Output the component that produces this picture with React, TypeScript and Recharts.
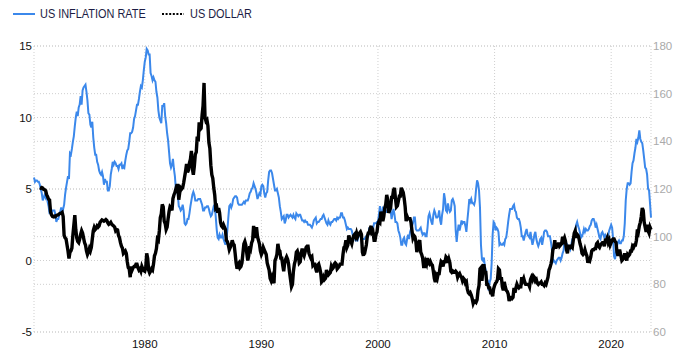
import React from 'react';
import { LineChart, Line, XAxis, YAxis, CartesianGrid } from 'recharts';

// monthly, first value = Jul 1970
const INFLATION_START = 1970 + 6 / 12;
const inflation = [
  5.8, 5.5, 5.6, 5.6, 5.5, 5.5,
  5.3, 5.0, 4.7, 4.2, 4.4, 4.6, 4.4, 4.6, 4.1, 3.8, 3.3, 3.3,
  3.3, 3.5, 3.5, 3.5, 3.2, 2.7, 2.9, 2.9, 3.2, 3.4, 3.7, 3.4,
  3.6, 3.9, 4.6, 5.1, 5.5, 5.9, 5.7, 7.5, 7.4, 7.8, 8.3, 8.7,
  9.4, 10.0, 10.4, 10.1, 10.7, 10.9, 11.5, 10.9, 11.9, 12.1, 12.2, 12.3,
  11.8, 11.2, 10.3, 10.2, 9.5, 9.3, 9.7, 8.6, 7.9, 7.4, 7.4, 6.9,
  6.7, 6.3, 6.1, 6.0, 6.2, 5.9, 5.3, 5.7, 5.5, 5.5, 4.9, 4.9,
  5.2, 6.0, 6.4, 6.9, 6.7, 6.9, 6.8, 6.6, 6.6, 6.4, 6.7, 6.7,
  6.8, 6.4, 6.6, 6.5, 7.0, 7.4, 7.7, 7.8, 8.3, 8.9, 8.9, 9.0,
  9.3, 9.9, 10.1, 10.5, 10.9, 10.9, 11.3, 11.8, 12.2, 12.1, 12.6, 13.3,
  13.9, 14.2, 14.8, 14.7, 14.4, 14.4, 13.1, 12.9, 12.6, 12.8, 12.6, 12.5,
  11.8, 11.4, 10.5, 10.0, 9.8, 9.6, 10.8, 10.8, 11.0, 10.1, 9.6, 8.9,
  8.4, 7.6, 6.8, 6.5, 6.7, 7.1, 6.4, 5.9, 5.0, 5.1, 4.6, 3.8,
  3.7, 3.5, 3.6, 3.9, 3.5, 2.6, 2.5, 2.6, 2.9, 2.9, 3.3, 3.8,
  4.2, 4.6, 4.8, 4.6, 4.2, 4.2, 4.2, 4.3, 4.3, 4.3, 4.1, 3.9,
  3.5, 3.5, 3.7, 3.7, 3.8, 3.8, 3.6, 3.3, 3.1, 3.2, 3.5, 3.8,
  3.9, 3.1, 2.2, 1.6, 1.5, 1.8, 1.6, 1.6, 1.8, 1.5, 1.3, 1.1,
  1.5, 2.1, 3.0, 3.8, 3.9, 3.7, 3.9, 4.3, 4.4, 4.5, 4.5, 4.4,
  4.0, 3.9, 3.9, 3.9, 3.9, 4.0, 4.1, 4.0, 4.2, 4.2, 4.2, 4.4,
  4.7, 4.8, 5.0, 5.1, 5.4, 5.2, 5.0, 4.7, 4.3, 4.5, 4.7, 4.6,
  5.2, 5.3, 5.2, 4.7, 4.4, 4.7, 4.8, 5.6, 6.2, 6.3, 6.3, 6.1,
  5.7, 5.3, 4.9, 4.9, 5.0, 4.7, 4.4, 3.8, 3.4, 2.9, 3.0, 3.1,
  2.6, 2.8, 3.2, 3.2, 3.0, 3.1, 3.2, 3.1, 3.0, 3.2, 3.0, 2.9,
  3.3, 3.2, 3.1, 3.2, 3.2, 3.0, 2.8, 2.8, 2.7, 2.8, 2.7, 2.7,
  2.5, 2.5, 2.5, 2.4, 2.3, 2.5, 2.8, 2.9, 3.0, 2.6, 2.7, 2.7,
  2.8, 2.9, 2.9, 3.1, 3.2, 3.0, 2.8, 2.6, 2.5, 2.8, 2.6, 2.5,
  2.7, 2.7, 2.8, 2.9, 2.9, 2.8, 3.0, 2.9, 3.0, 3.0, 3.3, 3.3,
  3.0, 3.0, 2.8, 2.5, 2.2, 2.3, 2.2, 2.2, 2.2, 2.1, 1.8, 1.7,
  1.6, 1.4, 1.4, 1.4, 1.7, 1.7, 1.7, 1.6, 1.5, 1.5, 1.5, 1.6,
  1.7, 1.6, 1.7, 2.3, 2.1, 2.0, 2.1, 2.3, 2.6, 2.6, 2.6, 2.7,
  2.7, 3.2, 3.8, 3.1, 3.2, 3.7, 3.7, 3.4, 3.5, 3.4, 3.4, 3.4,
  3.7, 3.5, 2.9, 3.3, 3.6, 3.2, 2.7, 2.7, 2.6, 2.1, 1.9, 1.6,
  1.1, 1.1, 1.5, 1.6, 1.2, 1.1, 1.5, 1.8, 1.5, 2.0, 2.2, 2.4,
  2.6, 3.0, 3.0, 2.2, 2.1, 2.1, 2.1, 2.2, 2.3, 2.0, 1.8, 1.9,
  1.9, 1.7, 1.7, 2.3, 3.1, 3.3, 3.0, 2.7, 2.5, 3.2, 3.5, 3.3,
  3.0, 3.0, 3.1, 3.5, 2.8, 2.5, 3.2, 3.6, 4.7, 4.3, 3.5, 3.4,
  4.0, 3.6, 3.4, 3.5, 4.2, 4.3, 4.1, 3.8, 2.1, 1.3, 2.0, 2.5,
  2.1, 2.4, 2.8, 2.6, 2.7, 2.7, 2.4, 2.0, 2.8, 3.5, 4.3, 4.1,
  4.3, 4.0, 4.0, 3.9, 4.2, 5.0, 5.6, 5.4, 4.9, 3.7, 1.1, 0.1,
  0.0, 0.2, -0.4, -0.7, -1.3, -1.4, -2.1, -1.5, -1.3, -0.2, 1.8, 2.7,
  2.6, 2.1, 2.3, 2.2, 2.0, 1.1, 1.2, 1.1, 1.1, 1.2, 1.1, 1.5,
  1.6, 2.1, 2.7, 3.2, 3.6, 3.6, 3.6, 3.8, 3.9, 3.5, 3.4, 3.0,
  2.9, 2.9, 2.7, 2.3, 1.7, 1.7, 1.4, 1.7, 2.0, 2.2, 1.8, 1.7,
  1.6, 2.0, 1.5, 1.1, 1.4, 1.8, 2.0, 1.5, 1.2, 1.0, 1.2, 1.5,
  1.6, 1.1, 1.5, 2.0, 2.1, 2.1, 2.0, 1.7, 1.7, 1.7, 1.3, 0.8,
  -0.1, 0.0, -0.1, -0.2, 0.0, 0.1, 0.2, 0.2, 0.0, 0.2, 0.5, 0.7,
  1.4, 1.0, 0.9, 1.1, 1.0, 1.0, 0.8, 1.1, 1.5, 1.6, 1.7, 2.1,
  2.5, 2.7, 2.4, 2.2, 1.9, 1.6, 1.7, 1.9, 2.2, 2.0, 2.2, 2.1,
  2.1, 2.2, 2.4, 2.5, 2.8, 2.9, 2.9, 2.7, 2.3, 2.5, 2.2, 1.9,
  1.6, 1.5, 1.9, 2.0, 1.8, 1.6, 1.8, 1.7, 1.7, 1.8, 2.1, 2.3,
  2.5, 2.3, 1.5, 0.3, 0.1, 0.6, 1.0, 1.3, 1.4, 1.2, 1.2, 1.4,
  1.4, 1.7, 2.6, 4.2, 5.0, 5.4, 5.4, 5.3, 5.4, 6.2, 6.8, 7.0,
  7.5, 7.9, 8.5, 8.3, 8.6, 9.1, 8.5, 8.3, 8.2, 7.7, 7.1, 6.5,
  6.4, 6.0, 5.0, 4.9, 4.0, 3.0,
];

// monthly, first value = Jan 1971
const DOLLAR_START = 1971;
const dollar = [
  120.5, 120.3, 120.6, 120.4, 119.8, 119.7, 119.3, 117.6, 116.8, 115.7, 115.4, 110.5,
  109.2, 108.5, 108.3, 108.6, 108.4, 108.9, 109.0, 109.2, 109.6, 109.8, 109.9, 110.2,
  108.5, 100.5, 99.5, 99.0, 96.5, 94.0, 90.8, 93.5, 94.0, 95.2, 100.5, 104.8,
  109.0, 103.0, 99.5, 98.0, 97.5, 99.0, 101.0, 102.5, 101.5, 99.5, 97.5, 96.5,
  94.0, 92.5, 93.5, 95.0, 94.0, 95.5, 99.0, 102.5, 103.9, 103.0, 103.5, 104.5,
  104.0, 104.5, 106.0, 106.5, 107.0, 106.8, 106.5, 106.8, 107.2, 106.8, 105.8, 105.2,
  105.5, 106.0, 105.2, 104.8, 104.5, 104.0, 102.5, 103.0, 102.8, 100.5, 99.5, 97.5,
  96.0, 95.2, 93.0, 93.5, 94.0, 93.0, 89.5, 87.0, 86.5, 83.0, 87.5, 86.0,
  87.0, 87.5, 87.5, 88.5, 88.5, 87.0, 86.0, 86.5, 85.5, 87.5, 86.5, 85.8,
  85.5, 87.0, 93.0, 91.0, 86.0, 84.8, 85.5, 86.5, 86.0, 88.5, 92.0, 93.0,
  95.0, 99.0, 98.5, 102.5, 108.0, 109.5, 113.5, 112.5, 106.5, 105.5, 103.0, 104.0,
  107.5, 110.5, 112.5, 112.0, 111.0, 116.0, 117.5, 118.5, 120.0, 121.5, 121.5, 115.5,
  118.5, 120.5, 120.0, 120.5, 122.5, 125.0, 127.5, 130.5, 127.0, 128.0, 131.0, 132.5,
  136.0, 128.5, 126.0, 129.5, 134.5, 135.5, 142.0, 140.0, 148.0, 145.0, 145.5, 151.0,
  155.0, 164.5, 150.0, 148.5, 149.0, 146.5, 139.5, 137.0, 130.0, 126.0, 124.5, 120.5,
  117.5, 112.0, 112.5, 110.0, 112.0, 110.0, 106.0, 104.5, 104.0, 105.0, 104.0, 103.0,
  98.5, 98.0, 96.5, 94.5, 95.5, 96.5, 98.5, 97.0, 96.5, 93.0, 89.0, 86.5,
  88.5, 89.0, 87.0, 87.5, 89.0, 93.0, 97.0, 98.0, 96.5, 93.0, 90.0, 92.0,
  96.0, 95.0, 97.5, 98.5, 104.5, 102.0, 99.5, 104.0, 100.0, 98.5, 97.0, 94.0,
  92.5, 93.5, 95.5, 94.5, 93.5, 92.5, 89.0, 87.5, 86.0, 82.5, 81.5, 83.0,
  81.5, 80.5, 90.0, 91.0, 92.5, 97.0, 94.5, 94.0, 91.0, 91.0, 88.0, 85.5,
  89.0, 90.5, 91.5, 90.5, 88.5, 85.0, 82.0, 79.0, 80.0, 85.5, 88.5, 90.0,
  93.5, 94.0, 92.5, 89.0, 89.5, 93.0, 95.0, 93.0, 92.0, 93.5, 95.5, 96.0,
  96.0, 93.0, 92.0, 91.0, 91.5, 88.0, 88.5, 88.5, 86.5, 85.0, 88.0, 88.5,
  87.0, 85.0, 81.0, 81.5, 83.0, 82.0, 82.5, 86.0, 85.0, 84.0, 84.5, 85.0,
  87.5, 86.5, 87.0, 88.5, 89.0, 88.5, 86.5, 87.0, 87.5, 88.5, 88.5, 88.5,
  92.5, 95.5, 96.0, 98.5, 95.5, 96.5, 100.5, 99.0, 98.0, 97.0, 99.0, 100.5,
  101.0, 100.0, 101.5, 100.0, 101.0, 101.5, 102.0, 101.0, 93.5, 92.0, 95.5, 94.5,
  96.5, 100.0, 101.5, 101.5, 103.5, 104.5, 100.5, 101.5, 98.5, 98.5, 101.0, 102.0,
  105.5, 106.5, 106.0, 110.5, 108.0, 106.5, 108.5, 112.0, 113.5, 117.5, 115.5, 110.0,
  111.0, 112.0, 116.5, 116.5, 119.5, 120.5, 116.0, 112.5, 113.0, 115.0, 117.0, 117.0,
  120.5, 119.5, 118.5, 116.0, 112.5, 106.5, 108.5, 107.5, 107.5, 107.5, 106.0, 102.5,
  99.5, 100.5, 100.0, 98.0, 93.5, 95.5, 97.5, 98.5, 93.5, 92.5, 91.0, 87.5,
  87.5, 89.5, 88.5, 91.0, 89.0, 88.5, 89.5, 88.5, 88.0, 85.5, 82.5, 81.0,
  83.5, 82.5, 84.5, 84.5, 87.5, 89.5, 89.0, 87.5, 89.5, 89.5, 91.5, 91.0,
  89.0, 90.5, 89.0, 85.5, 85.0, 85.5, 85.0, 85.0, 85.5, 85.0, 83.0, 84.0,
  84.5, 83.5, 83.0, 81.5, 82.5, 82.0, 80.5, 81.0, 78.0, 76.5, 76.0, 76.5,
  75.5, 74.0, 72.0, 73.0, 73.0, 72.5, 73.5, 77.5, 79.5, 86.5, 87.0, 81.5,
  86.0, 88.5, 85.0, 85.0, 80.0, 80.0, 78.5, 78.5, 76.5, 76.5, 75.0, 78.0,
  79.5, 80.5, 81.0, 82.0, 86.5, 86.0, 82.0, 83.0, 79.0, 77.5, 81.0, 79.0,
  77.5, 77.0, 76.0, 73.0, 74.5, 74.5, 74.0, 74.5, 78.5, 76.5, 78.5, 80.0,
  79.0, 78.5, 79.0, 79.0, 83.0, 81.5, 82.5, 81.0, 80.0, 80.0, 80.0, 80.0,
  79.0, 82.0, 83.0, 82.0, 83.5, 83.0, 81.5, 82.0, 80.5, 80.0, 80.5, 80.5,
  81.0, 80.0, 80.0, 79.5, 80.5, 80.0, 81.5, 83.0, 86.0, 87.0, 88.5, 90.5,
  94.5, 95.5, 98.5, 95.0, 97.0, 95.5, 97.5, 96.0, 96.5, 97.0, 100.0, 98.5,
  99.5, 98.0, 94.5, 93.0, 96.0, 96.0, 95.5, 96.0, 95.5, 98.5, 101.5, 102.5,
  99.5, 101.0, 100.5, 99.0, 97.0, 95.5, 93.0, 92.5, 93.0, 94.5, 93.0, 92.0,
  89.0, 90.5, 90.0, 91.5, 94.0, 94.5, 94.5, 95.0, 95.0, 97.0, 97.5, 96.0,
  95.5, 96.5, 97.0, 97.5, 97.5, 96.0, 98.5, 98.5, 99.5, 97.5, 98.5, 96.5,
  97.5, 98.5, 99.0, 99.0, 98.0, 97.5, 93.5, 92.0, 94.0, 94.0, 92.0, 90.0,
  90.5, 91.0, 93.0, 91.5, 90.0, 92.5, 92.0, 92.5, 94.0, 94.0, 96.0, 95.5,
  96.5, 96.5, 98.5, 103.0, 102.0, 104.5, 106.0, 108.5, 112.0, 111.0, 106.0, 104.0,
  102.0, 105.0, 102.5, 101.5, 104.0, 103.0,
];

const yearTicks = [1980, 1990, 2000, 2010, 2020];
const leftTicks = [-5, 0, 5, 10, 15];
const rightTicks = [60, 80, 100, 120, 140, 160, 180];

const BLUE = '#3b88eb';
const offset = Math.round((DOLLAR_START - INFLATION_START) * 12);

const data = inflation.map((v, i) => ({
  t: INFLATION_START + i / 12,
  inflation: v,
  dollar: i >= offset ? dollar[i - offset] ?? null : null,
}));

const tickFont = { fontSize: 11.5, fontFamily: 'Arial, "Liberation Sans", sans-serif' };

const legendText: React.CSSProperties = {
  position: 'absolute',
  top: 5,
  fontFamily: 'Arial, "Liberation Sans", sans-serif',
  fontSize: 13,
  lineHeight: '18px',
  color: '#1c1c44',
  whiteSpace: 'nowrap',
  transform: 'scaleX(0.84)',
  transformOrigin: 'left center',
};

const LegendBox = () => (
  <div style={{ position: 'absolute', left: 0, top: 0, width: 300, height: 28 }}>
    <svg width={300} height={28} style={{ position: 'absolute', left: 0, top: 0 }}>
      <line x1={13} x2={35} y1={14} y2={14} stroke={BLUE} strokeWidth={2} />
      <line x1={162} x2={184} y1={14} y2={14} stroke="#000" strokeWidth={2} strokeDasharray="2 1.6" />
    </svg>
    <span style={{ ...legendText, left: 40 }}>US INFLATION RATE</span>
    <span style={{ ...legendText, left: 190 }}>US DOLLAR</span>
  </div>
);

export default function App() {
  return (
    <div style={{ position: 'absolute', left: 0, top: 0, width: 690, height: 362, background: '#fff' }}>
      <LegendBox />
      <LineChart width={690} height={362} data={data} margin={{ top: 46, right: 0, bottom: 0, left: 0 }}>
        <CartesianGrid yAxisId="left" stroke="#cfcfcf" strokeDasharray="1 2" />
        <CartesianGrid yAxisId="right" vertical={false} stroke="#cfcfcf" strokeDasharray="1 2" />
        <XAxis
          dataKey="t"
          type="number"
          domain={['dataMin', 'dataMax']}
          ticks={yearTicks}
          tickFormatter={(v: number) => String(v)}
          axisLine={false}
          tickLine={false}
          tickSize={0}
          tickMargin={8}
          height={30}
          tick={{ ...tickFont, fill: '#111' }}
        />
        <YAxis
          yAxisId="left"
          orientation="left"
          domain={[-5, 15]}
          ticks={leftTicks}
          axisLine={false}
          tickLine={false}
          tickSize={0}
          tickMargin={2}
          width={34}
          tick={{ ...tickFont, fill: '#111' }}
        />
        <YAxis
          yAxisId="right"
          orientation="right"
          domain={[60, 180]}
          ticks={rightTicks}
          axisLine={false}
          tickLine={false}
          tickSize={0}
          tickMargin={2}
          width={39}
          tick={{ ...tickFont, fill: '#aaa' }}
        />
        <Line
          yAxisId="left"
          type="linear"
          dataKey="inflation"
          name="US INFLATION RATE"
          stroke={BLUE}
          strokeWidth={2}
          dot={false}
          isAnimationActive={false}
        />
        <Line
          yAxisId="right"
          type="linear"
          dataKey="dollar"
          name="US DOLLAR"
          stroke="#000"
          strokeWidth={3.4}
          dot={false}
          isAnimationActive={false}
        />
      </LineChart>
    </div>
  );
}
